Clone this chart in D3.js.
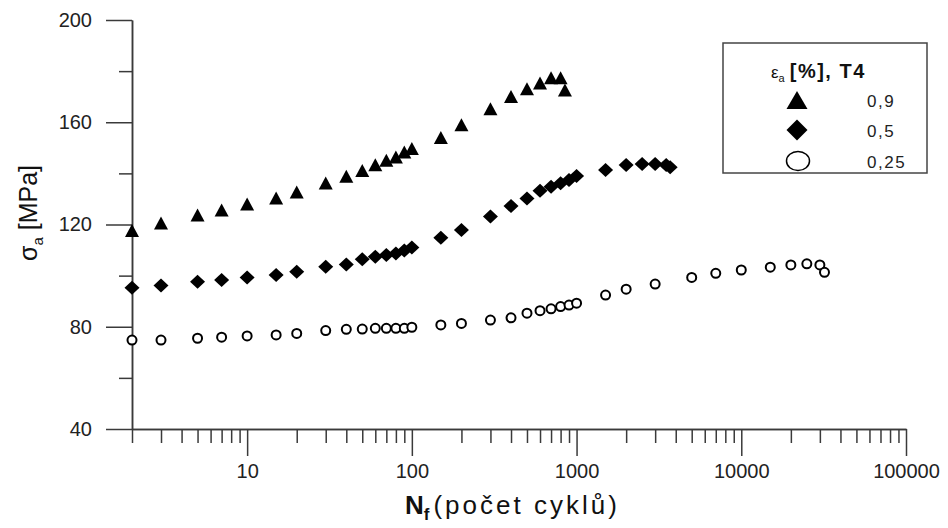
<!DOCTYPE html>
<html>
<head>
<meta charset="utf-8">
<script src="https://cdn.jsdelivr.net/npm/d3@7"></script>
<style>
  body { margin: 0; background: #fff; }
  text { font-family: "Liberation Sans", Arial, sans-serif; }
</style>
</head>
<body>
<div id="chart"></div>
<script>
// strain amplitude 0,9 %
var cycles09 = [2, 3, 5, 7, 10, 15, 20, 30, 40, 50, 60, 70, 80, 90, 100,
    150, 200, 300, 400, 500, 600, 700, 800, 850];
var stress09 = [117.7, 120.6, 123.7, 125.7, 128, 130.4, 132.7, 136.2, 138.9, 141.1, 143.4, 145.1, 146.4, 148.4, 149.7,
    154, 159, 165.3, 170.1, 173.1, 175.4, 177.4, 177.4, 172.6];

// strain amplitude 0,5 %
var cycles05 = [2, 3, 5, 7, 10, 15, 20, 30, 40, 50, 60, 70, 80, 90, 100,
    150, 200, 300, 400, 500, 600, 700, 800, 900, 1000, 1500, 2000, 2500, 3000, 3500, 3700];
var stress05 = [95.3, 96.1, 97.6, 98.3, 99.3, 100.2, 101.5, 103.5, 104.4, 106.4, 107.4, 108.1, 108.7, 109.8, 111,
    114.8, 117.8, 123.1, 127.2, 130.2, 133.2, 134.8, 136.1, 137.4, 139, 141.3, 143.3, 143.7, 143.7, 143.3, 142.4];

// strain amplitude 0,25 %
var cycles025 = [2, 3, 5, 7, 10, 15, 20, 30, 40, 50, 60, 70, 80, 90, 100,
    150, 200, 300, 400, 500, 600, 700, 800, 900, 1000, 1500, 2000, 3000, 5000, 7000,
    10000, 15000, 20000, 25000, 30000, 32000];
var stress025 = [74.8, 74.8, 75.5, 75.9, 76.4, 76.8, 77.4, 78.5, 79, 79.1, 79.4, 79.4, 79.4, 79.4, 79.8,
    80.7, 81.3, 82.6, 83.5, 85.3, 86.3, 87, 87.9, 88.5, 89.2, 92.4, 94.7, 96.7, 99.3, 100.9,
    102.2, 103.3, 104.2, 104.6, 104.2, 101.3];

var legendLabels = ["0,9", "0,5", "0,25"];
var xMajorTicks = [10, 100, 1000, 10000, 100000];
var yMajorTicks = [40, 80, 120, 160, 200];
var yMinorTicks = [60, 100, 140, 180];

var width = 948,
    height = 528;

var svg = d3.select("#chart").append("svg")
    .attr("width", width)
    .attr("height", height);

var x = d3.scaleLog().domain([2, 100000]).range([132, 906]);
var y = d3.scaleLinear().domain([40, 200]).range([429, 20]);

// minor ticks 2..9 per decade
var xMinorTicks = [];
for (var p = 1; p <= 10000; p *= 10) {
    for (var k = 2; k <= 9; k++) {
        if (k * p >= 2 && k * p < 100000) xMinorTicks.push(k * p);
    }
}

// x axis
svg.append("g")
    .attr("transform", "translate(0,429)")
    .call(d3.axisBottom(x).tickValues(xMinorTicks).tickSize(14).tickSizeOuter(0).tickFormat(""));
svg.append("g")
    .attr("transform", "translate(0,429)")
    .call(d3.axisBottom(x).tickValues(xMajorTicks).tickSize(27).tickSizeOuter(0)
        .tickPadding(8).tickFormat(d3.format("d")));

// y axis
svg.append("g")
    .attr("transform", "translate(132,0)")
    .call(d3.axisLeft(y).tickValues(yMinorTicks).tickSize(13).tickSizeOuter(0).tickFormat(""));
svg.append("g")
    .attr("transform", "translate(132,0)")
    .call(d3.axisLeft(y).tickValues(yMajorTicks).tickSize(26).tickSizeOuter(0).tickPadding(14));

svg.selectAll(".domain, .tick line")
    .attr("stroke", "#3a3a3a")
    .attr("stroke-width", 1.5);
svg.selectAll(".tick text")
    .attr("fill", "#222")
    .style("font-size", "20px")
    .style("font-family", "'Liberation Sans', Arial, sans-serif");

// axis titles
var xTitle = svg.append("text")
    .attr("x", 405)
    .attr("y", 514)
    .attr("fill", "#111")
    .style("font-size", "26px");
xTitle.append("tspan").attr("font-weight", "bold").text("N");
xTitle.append("tspan").attr("font-weight", "bold").attr("dy", 6).style("font-size", "17px").text("f");
xTitle.append("tspan").attr("dy", -6).attr("dx", 4)
    .style("letter-spacing", "3px").text("(počet cyklů)");

var yTitle = svg.append("text")
    .attr("transform", "translate(37,213) rotate(-90)")
    .attr("text-anchor", "middle")
    .attr("fill", "#111")
    .style("font-size", "25px");
yTitle.append("tspan").text("σ");
yTitle.append("tspan").attr("dy", 6).style("font-size", "15px").text("a");
yTitle.append("tspan").attr("dy", -6).text(" [MPa]");

// marker shapes
function triangle(w, h) {
    return "M0," + (-h / 2) + "L" + (w / 2) + "," + (h / 2) + "L" + (-w / 2) + "," + (h / 2) + "Z";
}
function diamond(w, h) {
    return "M0," + (-h / 2) + "L" + (w / 2) + ",0L0," + (h / 2) + "L" + (-w / 2) + ",0Z";
}

var plot = svg.append("g");

plot.selectAll(".tri")
    .data(d3.zip(cycles09, stress09))
    .enter()
    .append("path")
    .attr("class", "tri")
    .attr("d", triangle(14, 13))
    .attr("transform", function(d) { return "translate(" + x(d[0]) + "," + y(d[1]) + ")"; })
    .attr("fill", "#000");

plot.selectAll(".dia")
    .data(d3.zip(cycles05, stress05))
    .enter()
    .append("path")
    .attr("class", "dia")
    .attr("d", diamond(15, 14))
    .attr("transform", function(d) { return "translate(" + x(d[0]) + "," + y(d[1]) + ")"; })
    .attr("fill", "#000");

plot.selectAll(".circ")
    .data(d3.zip(cycles025, stress025))
    .enter()
    .append("circle")
    .attr("class", "circ")
    .attr("cx", function(d) { return x(d[0]); })
    .attr("cy", function(d) { return y(d[1]); })
    .attr("r", 4.5)
    .attr("fill", "#fff")
    .attr("stroke", "#000")
    .attr("stroke-width", 2);

// legend
var legend = svg.append("g");
legend.append("rect")
    .attr("x", 723).attr("y", 43)
    .attr("width", 204).attr("height", 130)
    .attr("fill", "#fff")
    .attr("stroke", "#444")
    .attr("stroke-width", 1.5);

var lt = legend.append("text")
    .attr("x", 771).attr("y", 78)
    .attr("fill", "#111")
    .style("font-size", "20px");
lt.append("tspan").style("font-size", "17px").text("ε");
lt.append("tspan").attr("dy", 4).style("font-size", "11px").text("a");
lt.append("tspan").attr("dy", -4).attr("dx", 5).attr("font-weight", "bold")
    .style("letter-spacing", "1.5px").text("[%], T4");

var legendY = [100, 130, 161];
legend.append("path")
    .attr("d", triangle(21, 18))
    .attr("transform", "translate(797," + legendY[0] + ")")
    .attr("fill", "#000");
legend.append("path")
    .attr("d", diamond(21, 21))
    .attr("transform", "translate(797," + legendY[1] + ")")
    .attr("fill", "#000");
legend.append("ellipse")
    .attr("cx", 798).attr("cy", legendY[2])
    .attr("rx", 11.5).attr("ry", 9.5)
    .attr("fill", "#fff")
    .attr("stroke", "#000")
    .attr("stroke-width", 1.5);

legend.selectAll(".lab")
    .data(legendLabels)
    .enter()
    .append("text")
    .attr("class", "lab")
    .attr("x", 867)
    .attr("y", function(d, i) { return legendY[i] + 7; })
    .attr("fill", "#222")
    .style("font-size", "17px")
    .style("letter-spacing", "1.5px")
    .text(function(d) { return d; });
</script>
</body>
</html>
